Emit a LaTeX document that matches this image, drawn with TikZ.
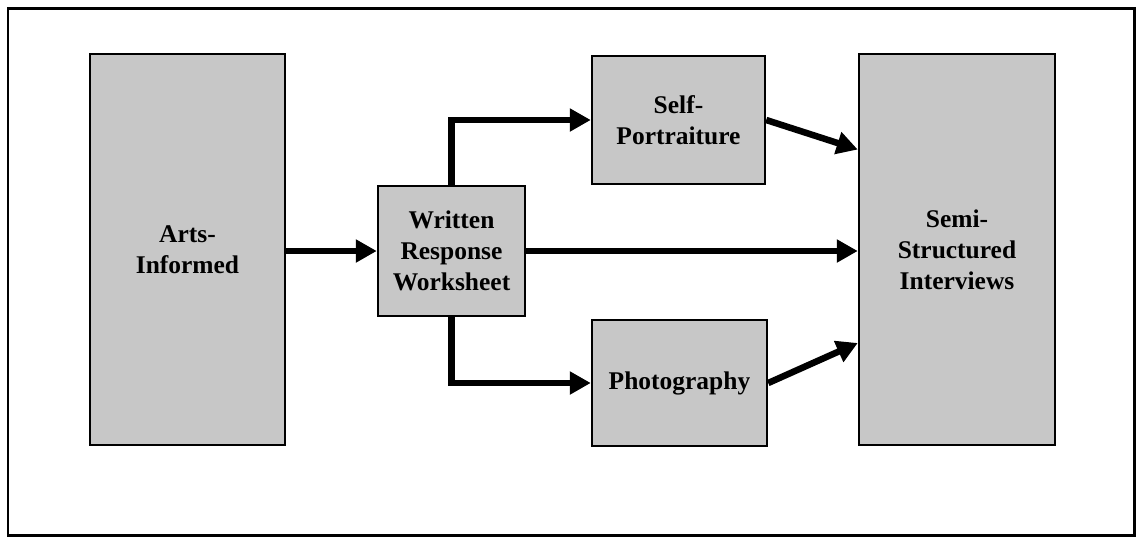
\documentclass[tikz,border=0pt]{standalone}
\usepackage{fontspec}
\setmainfont{Liberation Serif}
\usetikzlibrary{arrows.meta,calc}
\begin{document}
\begin{tikzpicture}[x=0.02cm,y=-0.02cm,
  box/.style={draw=black,line width=0.05cm,fill=black!22,inner sep=0pt,
    align=center,font=\fontsize{14.5}{17.6}\selectfont\bfseries},
  flow/.style={line width=0.13cm,-{Triangle[length=0.42cm,width=0.44cm]}}]
\useasboundingbox (0,0) rectangle (1137,539);
\draw[line width=0.06cm] (8,8) rectangle (1134,535);
\node[box,minimum width=3.9cm,minimum height=7.82cm] (arts) at (187.5,249.5) {Arts-\\Informed};
\node[box,minimum width=2.94cm,minimum height=2.6cm] (wr) at (451.5,251) {Written\\Response\\Worksheet};
\node[box,minimum width=3.46cm,minimum height=2.56cm] (self) at (678.5,120) {Self-\\Portraiture};
\node[box,minimum width=3.5cm,minimum height=2.52cm] (photo) at (679.5,383) {Photography};
\node[box,minimum width=3.92cm,minimum height=7.82cm] (semi) at (957,249.5) {Semi-\\Structured\\Interviews};
\coordinate (semiA) at ([yshift=2cm]semi.west);
\coordinate (semiC) at ([yshift=-1.87cm]semi.west);
\draw[flow] (arts.east |- wr.west) -- (wr.west);
\draw[flow] (wr.north) |- (self.west);
\draw[flow] (wr.south) |- (photo.west);
\draw[flow] (wr.east) -- (semi.west |- wr.east);
\draw[flow] (self.east) -- (semiA);
\draw[flow] (photo.east) -- (semiC);
\end{tikzpicture}
\end{document}
